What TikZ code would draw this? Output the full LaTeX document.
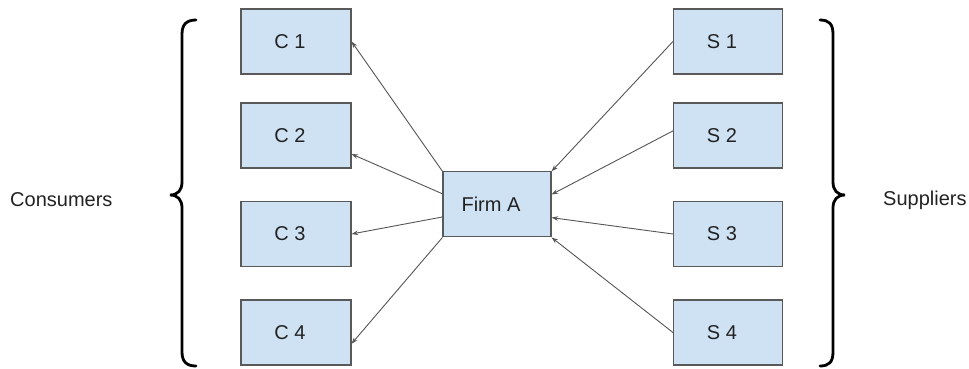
\documentclass[tikz,border=0pt]{standalone}
\usepackage{fontspec}
\setmainfont{Liberation Sans}
\usetikzlibrary{arrows.meta,calc}
\definecolor{boxfill}{HTML}{CFE2F3}
\definecolor{boxline}{HTML}{595959}
\definecolor{connline}{HTML}{555555}
\definecolor{labeltext}{HTML}{222222}
\begin{document}
\begin{tikzpicture}[x=1pt,y=-1pt,
  party/.style={rectangle, draw=boxline, line width=1.1pt, fill=boxfill,
    minimum width=110pt, minimum height=65pt, inner sep=0pt,
    text=labeltext, font=\fontsize{20}{24}\selectfont,
    execute at end node={\kern12pt}},
  firm/.style={party, minimum width=108pt},
  conn/.style={draw=connline, line width=0.9pt,
    -{Stealth[length=6.5pt,width=4.5pt]}},
  bracket/.style={draw=black, line width=2.8pt, line cap=round},
  grouplabel/.style={text=labeltext, font=\fontsize{20}{24}\selectfont, inner sep=0pt}]
\useasboundingbox (0,0) rectangle (969,368);

% consumers
\node[party] (C1) at (296,41.5) {C 1};
\node[party] (C2) at (296,135.5) {C 2};
\node[party] (C3) at (296,234) {C 3};
\node[party] (C4) at (296,332.5) {C 4};

% suppliers
\node[party, minimum width=109pt] (S1) at (728,41.5) {S 1};
\node[party, minimum width=109pt] (S2) at (728,135.5) {S 2};
\node[party, minimum width=109pt] (S3) at (728,234) {S 3};
\node[party, minimum width=109pt] (S4) at (728,332.5) {S 4};

% the firm
\node[firm] (F) at (497,204.4) {Firm A};

% group labels
\node[grouplabel, anchor=base west] (cons) at (10,206) {Consumers};
\node[grouplabel, anchor=base west] (supp) at (883,205) {Suppliers};

% flows out to consumers
\draw[conn] (F.north west) -- (C1.east);
\draw[conn] ($(F.north west)!0.34!(F.south west)$) -- ($(C2.north east)!0.78!(C2.south east)$);
\draw[conn] ($(F.north west)!0.69!(F.south west)$) -- (C3.east);
\draw[conn] (F.south west) -- ($(C4.north east)!0.67!(C4.south east)$);

% flows in from suppliers
\draw[conn] (S1.west) -- (F.north east);
\draw[conn] ($(S2.north west)!0.43!(S2.south west)$) -- ($(F.north east)!0.35!(F.south east)$);
\draw[conn] (S3.west) -- ($(F.north east)!0.70!(F.south east)$);
\draw[conn] (S4.west) -- (F.south east);

% curly brackets
\draw[bracket] (196,20) .. controls (187,20) and (182,24) .. (182,34)
  -- (182,182) .. controls (182,190) and (178,195) .. (170,195)
  .. controls (178,195) and (182,200) .. (182,208)
  -- (182,352) .. controls (182,362) and (187,366) .. (196,366);
\draw[bracket] (820,20) .. controls (829,20) and (833,24) .. (833,34)
  -- (833,182) .. controls (833,190) and (837,195) .. (845,195)
  .. controls (837,195) and (833,200) .. (833,208)
  -- (833,352) .. controls (833,362) and (829,366) .. (820,366);
\end{tikzpicture}
\end{document}
